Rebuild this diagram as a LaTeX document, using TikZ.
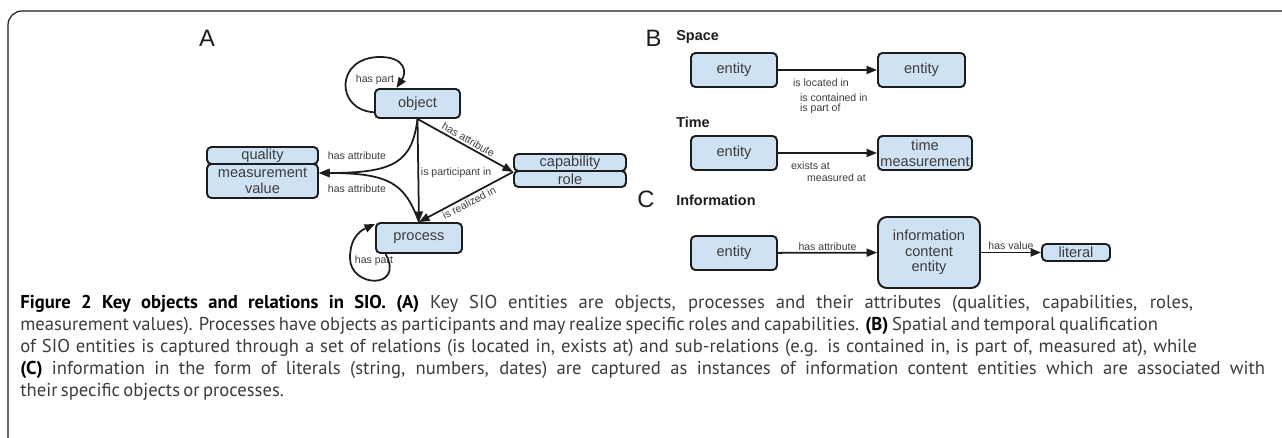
\documentclass[tikz,border=0pt]{standalone}
\usepackage{fontspec}
\setmainfont{Liberation Sans}
\newfontfamily\capfont{PT Sans}
\usetikzlibrary{arrows.meta,calc,positioning}
\definecolor{boxblue}{HTML}{CFE2F3}
\definecolor{inkgray}{HTML}{1C1C1C}
\definecolor{textgray}{HTML}{3C3C3C}
\newcommand{\capfill}[2]{\makebox[#1][s]{#2}}
\tikzset{
  sbox/.style={draw=inkgray, fill=boxblue, line width=1.1pt, rounded corners=2.5pt,
    inner sep=0pt, align=center, text=textgray, font=\fontsize{8.3}{9.2}\selectfont},
  arr/.style={draw=inkgray, line width=1pt, -{Triangle[length=6pt,width=4.6pt]}},
  elabel/.style={font=\fontsize{6}{7}\selectfont, text=textgray, inner sep=1pt},
  panel/.style={font=\fontsize{13.5}{14}\selectfont, text=inkgray},
  head/.style={font=\bfseries\fontsize{8.2}{9}\selectfont, text=inkgray, anchor=west, inner sep=0pt},
  capline/.style={anchor=west, inner sep=0pt, text=textgray, font=\capfont\fontsize{10.6}{12}\selectfont}
}

\begin{document}
\begin{tikzpicture}[x=0.02cm, y=-0.02cm]
  \useasboundingbox (0,0) rectangle (1282,438);
  % frame
  \draw[inkgray, line width=0.7pt, rounded corners=8] (8,445) -- (8,11) -- (1290,11);

  % A
  \node[panel] (labA) at (207,38) {A};
  \node[sbox, minimum width=1.7cm, minimum height=0.58cm] (object) at (417.5,103.5) {object};
  \node[sbox, minimum width=1.72cm, minimum height=0.6cm] (process) at (419,238) {process};
  \node[sbox, minimum width=2.22cm, minimum height=0.34cm] (quality) at (262.5,155.5) {quality};
  \node[sbox, minimum width=2.22cm, minimum height=0.68cm] (mv) at (262.5,181) {measurement\\value};
  \node[sbox, minimum width=2.24cm, minimum height=0.34cm] (cap) at (570,162.5) {capability};
  \node[sbox, minimum width=2.24cm, minimum height=0.32cm] (role) at (570,179) {role};
  \coordinate (mvin) at ($(mv.east)+(0,-8)$);

  \draw[arr] ([yshift=-5]object.west) .. controls (335,110) and (335,57) .. (380,57)
    .. controls (405,57) and (407,72) .. ([xshift=-12]object.north);
  \node[elabel] at (375,80) {has part};
  \draw[arr] ([xshift=-19]process.south) .. controls (405,290) and (350,288) .. (350,258)
    .. controls (350,236) and (362,230) .. ([yshift=8]process.west);
  \node[elabel] at (374,261) {has part};

  \draw[arr] (object.south) .. controls (412,162) and (395,173) .. (mvin);
  \draw[arr] (process.north) .. controls (405,185) and (392,173) .. (mvin);
  \node[elabel] at (357,156) {has attribute};
  \node[elabel] at (357,189) {has attribute};
  \draw[arr] (object.south) -- (process.north) node[elabel, right, pos=0.52] {is participant in};
  \draw[arr] (object.south) -- (cap.south west) node[elabel, sloped, above, midway] {has attribute};
  \draw[arr] (cap.south west) -- (process.north) node[elabel, sloped, below, midway] {is realized in};

  % B
  \node[panel] (labB) at (653.5,38) {B};
  \node[head] (space) at (676,37) {Space};
  \node[sbox, minimum width=1.72cm, minimum height=0.68cm] (sp1) at (734,70) {entity};
  \node[sbox, minimum width=1.74cm, minimum height=0.68cm] (sp2) at (921.5,70) {entity};
  \draw[arr] (sp1) -- (sp2);
  \node[elabel, anchor=west] at (791,83) {is located in};
  \node[elabel, anchor=west] at (798,97.5) {is contained in};
  \node[elabel, anchor=west] at (798,109) {is part of};

  \node[head] (time) at (676,122) {Time};
  \node[sbox, minimum width=1.72cm, minimum height=0.68cm] (tm1) at (734,153) {entity};
  \node[sbox, minimum width=1.88cm, minimum height=0.68cm] (tm2) at (925,153) {time\\measurement};
  \draw[arr] (tm1) -- (tm2);
  \node[elabel, anchor=west] at (789,166) {exists at};
  \node[elabel, anchor=west] at (805,178) {measured at};

  % C
  \node[panel] (labC) at (646,199) {C};
  \node[head] (info) at (676,200) {Information};
  \node[sbox, minimum width=1.72cm, minimum height=0.68cm] (in1) at (734,253) {entity};
  \node[sbox, minimum width=2.04cm, minimum height=1.42cm, rounded corners=5pt,
    font=\fontsize{8.3}{8.8}\selectfont] (ice) at (929,252.5) {information\\content\\entity};
  \node[sbox, minimum width=1.36cm, minimum height=0.34cm] (lit) at (1076,252.5) {literal};
  \draw[arr] (in1) -- (ice) node[elabel, above, midway] {has attribute};
  \draw[arr] (ice) -- (lit) node[elabel, above, midway] {has value};

  % caption
  \node[capline] (cap1) at (20,304) {\capfill{23.46cm}{\textcolor{black}{\bfseries Figure 2 Key objects and relations in SIO. (A)} Key SIO entities are objects, processes and their attributes (qualities, capabilities, roles,}};
  \node[capline] (cap2) at (20,326) {\capfill{22.76cm}{measurement values). Processes have objects as participants and may realize specific roles and capabilities. \textcolor{black}{\bfseries (B)} Spatial and temporal qualification}};
  \node[capline] (cap3) at (20,348) {\capfill{23.54cm}{of SIO entities is captured through a set of relations (is located in, exists at) and sub-relations (e.g. is contained in, is part of, measured at), while}};
  \node[capline] (cap4) at (20,370) {\capfill{24.9cm}{\textcolor{black}{\bfseries (C)} information in the form of literals (string, numbers, dates) are captured as instances of information content entities which are associated with}};
  \node[capline] (cap5) at (20,392) {\capfill{4.84cm}{their specific objects or processes.}};
\end{tikzpicture}
\end{document}
